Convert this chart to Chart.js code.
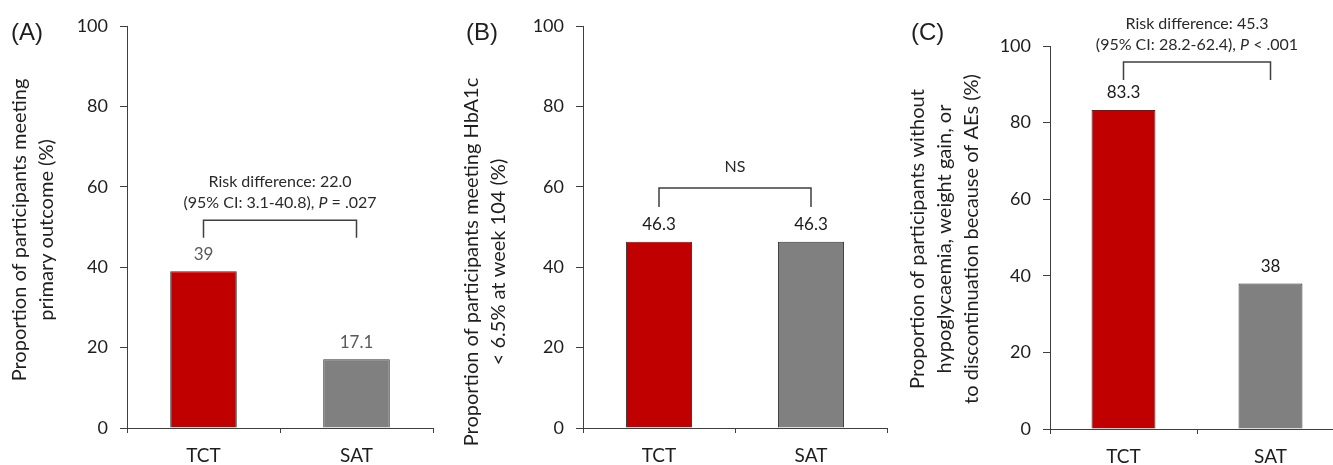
<!DOCTYPE html>
<html>
<head>
<meta charset="utf-8">
<script src="https://cdn.jsdelivr.net/npm/chart.js@4.4.1/dist/chart.umd.min.js"></script>
<style>
  html, body { margin: 0; padding: 0; background: #fff; overflow: hidden; }
  body { width: 1333px; height: 465px; position: relative; }
  .panel { position: absolute; top: 0; }
</style>
</head>
<body>
<canvas id="chartA" class="panel" width="445" height="465" style="left:0px"></canvas>
<canvas id="chartB" class="panel" width="445" height="465" style="left:450px"></canvas>
<canvas id="chartC" class="panel" width="460" height="465" style="left:895px"></canvas>
<script>
const categories = ['TCT', 'SAT'];
const yTickValues = [0, 20, 40, 60, 80, 100];
const valuesA = [39, 17.1];
const valuesB = [46.3, 46.3];
const valuesC = [83.3, 38];
const barColors = ['#c00000', '#808080'];

const titleA = ['Proportion of participants meeting', 'primary outcome (%)'];
const titleB = ['Proportion of participants meeting HbA1c', '< 6.5% at week 104 (%)'];
const titleC = ['Proportion of participants without', 'hypoglycaemia, weight gain, or', 'to discontinuation because of AEs (%)'];

// bracket level and foot, in axis units
const bracketA = [51.7, 47.3];
const bracketB = [59.7, 55];
const bracketC = [95.8, 91.1];

// annotation lines: each is a list of [text, italic]
const noteA = [[['Risk difference: 22.0', false]], [['(95% CI: 3.1-40.8), ', false], ['P', true], [' = .027', false]]];
const noteB = [[['NS', false]]];
const noteC = [[['Risk difference: 45.3', false]], [['(95% CI: 28.2-62.4), ', false], ['P', true], [' < .001', false]]];

const AXIS_COLOR = '#3f3f3f';
const TEXT_COLOR = '#1e1e1e';
const FONT = 'Lato';

function drawSegments(ctx, segs, cx, cy, size) {
  let total = 0;
  segs.forEach(([t, it]) => {
    ctx.font = (it ? 'italic ' : '') + size + 'px ' + FONT;
    total += ctx.measureText(t).width;
  });
  let x = cx - total / 2;
  segs.forEach(([t, it]) => {
    ctx.font = (it ? 'italic ' : '') + size + 'px ' + FONT;
    ctx.fillText(t, x, cy);
    x += ctx.measureText(t).width;
  });
}

const panelExtras = {
  id: 'panelExtras',
  afterDraw(chart, args, opts) {
    const ctx = chart.ctx;
    const yScale = chart.scales.y;
    const bars = chart.getDatasetMeta(0).data;
    ctx.save();
    ctx.textBaseline = 'middle';

    // panel letter
    ctx.fillStyle = TEXT_COLOR;
    ctx.textAlign = 'left';
    ctx.font = '24px "Liberation Sans"';
    ctx.fillText(opts.letter, opts.letterX, 33);

    // y axis title
    ctx.save();
    ctx.translate(opts.titleX, opts.titleY);
    ctx.rotate(-Math.PI / 2);
    ctx.textAlign = 'center';
    ctx.font = '20px ' + FONT;
    opts.title.forEach((line, i) => ctx.fillText(line, 0, i * 27));
    ctx.restore();

    // value labels
    ctx.textAlign = 'center';
    ctx.fillStyle = opts.valueColor;
    ctx.font = '17px ' + FONT;
    bars.forEach((bar, i) => {
      ctx.fillText(String(opts.values[i]), bar.x, bar.y - 17);
    });

    // bracket
    const top = yScale.getPixelForValue(opts.bracket[0]);
    const foot = yScale.getPixelForValue(opts.bracket[1]);
    const lx = bars[0].x, rx = bars[1].x;
    ctx.strokeStyle = AXIS_COLOR;
    ctx.lineWidth = 1.5;
    ctx.beginPath();
    ctx.moveTo(lx, foot);
    ctx.lineTo(lx, top);
    ctx.lineTo(rx, top);
    ctx.lineTo(rx, foot);
    ctx.stroke();

    // annotation text above the bracket
    ctx.fillStyle = '#2a2a2a';
    ctx.textAlign = 'left';
    const cx = (lx + rx) / 2;
    const n = opts.note.length;
    opts.note.forEach((segs, i) => {
      const cy = top - opts.noteGap - (n - 1 - i) * 21;
      drawSegments(ctx, segs, cx, cy, opts.noteSize);
    });
    ctx.restore();
  }
};

function makeChart(id, values, cfg) {
  return new Chart(document.getElementById(id), {
    type: 'bar',
    data: {
      labels: categories,
      datasets: [{
        data: values,
        backgroundColor: barColors,
        borderColor: '#333',
        borderWidth: 1,
        barPercentage: 1,
        categoryPercentage: 0.435
      }]
    },
    options: {
      responsive: false,
      animation: false,
      devicePixelRatio: 1,
      events: [],
      layout: { padding: { left: 0, top: cfg.top, right: cfg.right, bottom: 0 } },
      plugins: {
        legend: { display: false },
        tooltip: { enabled: false },
        panelExtras: cfg.extras
      },
      scales: {
        x: {
          afterFit: s => { s.height = cfg.xHeight; },
          border: { display: true, color: AXIS_COLOR, width: 1 },
          grid: { drawOnChartArea: false, drawTicks: true, tickLength: 5, color: AXIS_COLOR, offset: true },
          ticks: { color: TEXT_COLOR, font: { family: FONT, size: 19 }, padding: 11 }
        },
        y: {
          min: 0,
          max: 100,
          afterBuildTicks: s => { s.ticks = yTickValues.map(v => ({ value: v })); },
          afterFit: s => { s.width = cfg.yWidth; },
          border: { display: true, color: AXIS_COLOR, width: 1 },
          grid: { drawOnChartArea: false, drawTicks: true, tickLength: 7, color: AXIS_COLOR },
          ticks: { color: TEXT_COLOR, font: { family: FONT, size: 18 }, padding: 12 }
        }
      }
    },
    plugins: [panelExtras]
  });
}

makeChart('chartA', valuesA, {
  top: 26, right: 12, yWidth: 127, xHeight: 37,
  extras: { letter: '(A)', letterX: 11, title: titleA, titleX: 20, titleY: 230,
    values: valuesA, valueColor: '#595959', bracket: bracketA, note: noteA, noteGap: 17, noteSize: 16 }
});

makeChart('chartB', valuesB, {
  top: 26, right: 8, yWidth: 133, xHeight: 37,
  extras: { letter: '(B)', letterX: 16, title: titleB, titleX: 22, titleY: 262,
    values: valuesB, valueColor: '#1a1a1a', bracket: bracketB, note: noteB, noteGap: 21, noteSize: 16 }
});

makeChart('chartC', valuesC, {
  top: 46, right: 11, yWidth: 155, xHeight: 36,
  extras: { letter: '(C)', letterX: 16, title: titleC, titleX: 23, titleY: 239,
    values: valuesC, valueColor: '#1a1a1a', bracket: bracketC, note: noteC, noteGap: 17, noteSize: 16 }
});
</script>
</body>
</html>
